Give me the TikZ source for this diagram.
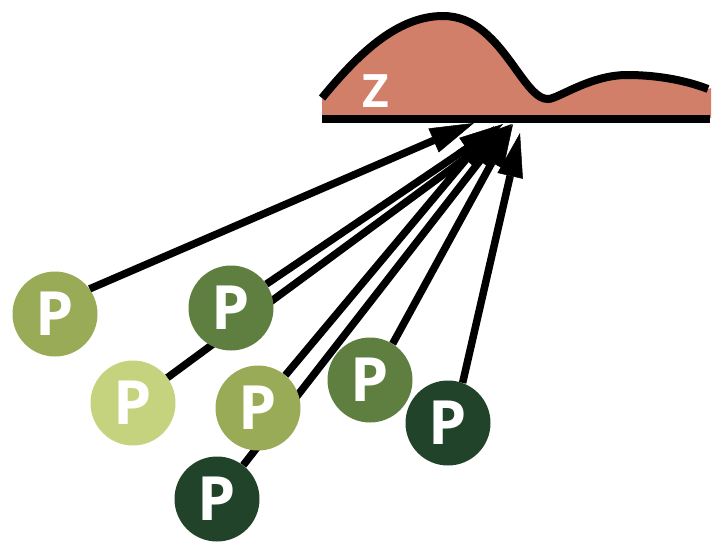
\documentclass[tikz,border=0pt]{standalone}
\usepackage{fontspec}
\setmainfont{Open Sans}
\usetikzlibrary{arrows.meta,backgrounds}
\definecolor{pOlive}{HTML}{9AAB58}
\definecolor{pMid}{HTML}{5F7F41}
\definecolor{pLight}{HTML}{C5D37F}
\definecolor{pDark}{HTML}{21432A}
\definecolor{zSalmon}{HTML}{D17F69}
\begin{document}
\begin{tikzpicture}[x=1pt,y=-1pt,
  pnode/.style={circle, minimum size=85pt, inner sep=0pt, text=white,
    font=\fontsize{61}{61}\selectfont\bfseries},
  conn/.style={line width=7.5pt, -{Triangle[length=44pt,width=26pt,line width=0.5pt]}},
  hillline/.style={line width=8pt},
  baseline/.style={line width=8pt}]
\useasboundingbox (0,0) rectangle (725,544);

% arrow targets
\coordinate (t1) at (474,123);
\coordinate (t2) at (503,124);
\coordinate (t3) at (512,124);
\coordinate (t4) at (494,126);
\coordinate (t5) at (507,126);
\coordinate (t6) at (513,124);
\coordinate (t7) at (520,133);

% P nodes
\node[pnode, fill=pOlive] (p1) at (55,314) {P};
\node[pnode, fill=pMid]   (p2) at (231,308) {P};
\node[pnode, fill=pLight] (p3) at (133,403) {P};
\node[pnode, fill=pOlive] (p4) at (258,408) {P};
\node[pnode, fill=pDark]  (p5) at (217,499) {P};
\node[pnode, fill=pMid]   (p6) at (370,380) {P};
\node[pnode, fill=pDark]  (p7) at (448,423) {P};

\begin{pgfonlayer}{background}
\draw[conn] (p1.36) -- (t1);
\draw[conn] (p2) -- (t2);
\draw[conn] (p3) -- (t3);
\draw[conn] (p4) -- (t4);
\draw[conn] (p5) -- (t5);
\draw[conn] (p6.58) -- (t6);
\draw[conn] (p7.70) -- (t7);
\end{pgfonlayer}

% Z hill
\fill[zSalmon] (322,98) .. controls (355,58) and (395,16) .. (443,16)
  .. controls (475,16) and (495,40) .. (515,68)
  .. controls (530,89) and (538,99) .. (548,99)
  .. controls (558,99) and (590,75) .. (627,75)
  .. controls (662,75) and (690,82) .. (708,89)
  -- (711,88) -- (711,118) -- (322,118) -- cycle;
\draw[hillline] (322,98) .. controls (355,58) and (395,16) .. (443,16)
  .. controls (475,16) and (495,40) .. (515,68)
  .. controls (530,89) and (538,99) .. (548,99)
  .. controls (558,99) and (590,75) .. (627,75)
  .. controls (662,75) and (690,82) .. (708,89);
\coordinate (bl) at (322,119);
\coordinate (br) at (710,119);
\draw[baseline] (bl) -- (br);
\node[text=white, inner sep=0pt, font=\fontsize{46}{46}\selectfont\bfseries] (z) at (376,91) {Z};
\end{tikzpicture}
\end{document}
